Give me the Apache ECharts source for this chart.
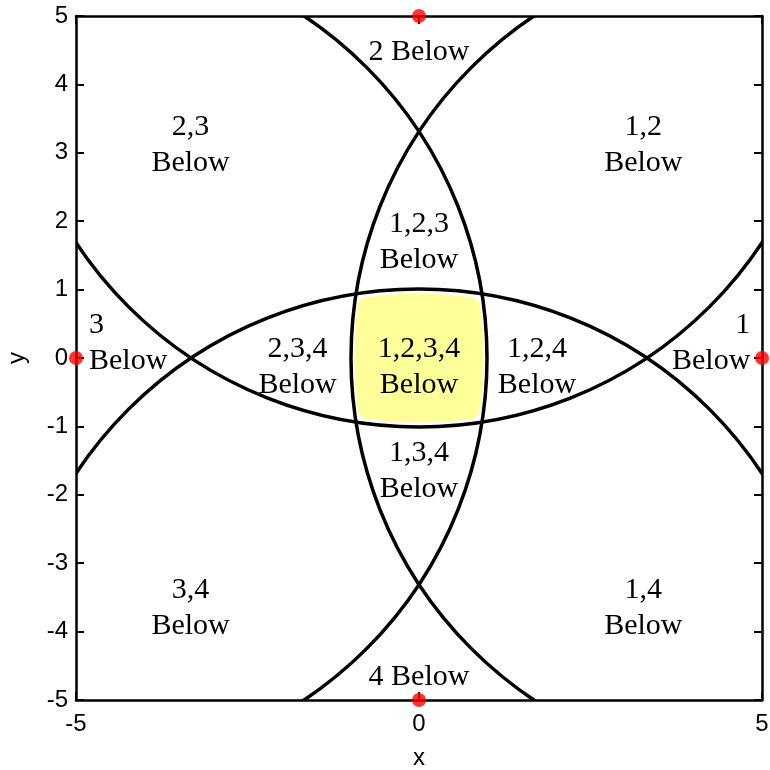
<!DOCTYPE html>
<html>
<head>
<meta charset="utf-8">
<script src="https://cdn.jsdelivr.net/npm/echarts@6/dist/echarts.min.js"></script>
<style>
  html, body { margin: 0; padding: 0; background: #fff; }
  #chart { width: 770px; height: 770px; }
</style>
</head>
<body>
<div id="chart"></div>
<script>
// Circle centres (the four reference points) and their common radius
const centerX = [0, 5, 0, -5];
const centerY = [5, 0, -5, 0];
const radius = 6;

// Region labels: anchor position and text
const labelX = [0, -3.33, 3.27, 0, -4.81, -1.77, 0, 1.72, 4.83, 0, -3.33, 3.27, 0];
const labelY = [4.47, 3.11, 3.11, 1.70, 0.22, -0.13, -0.13, -0.13, 0.22, -1.66, -3.65, -3.65, -4.66];
const labelText = [
  '2 Below',
  '2,3\nBelow',
  '1,2\nBelow',
  '1,2,3\nBelow',
  '3\nBelow',
  '2,3,4\nBelow',
  '1,2,3,4\nBelow',
  '1,2,4\nBelow',
  '1\nBelow',
  '1,3,4\nBelow',
  '3,4\nBelow',
  '1,4\nBelow',
  '4 Below'
];

// Axis ticks
const xTicks = [-5, 0, 5];
const yTicks = [-5, -4, -3, -2, -1, 0, 1, 2, 3, 4, 5];

const chart = echarts.init(document.getElementById('chart'));

const axisFont = { fontFamily: 'Liberation Sans, Arial, sans-serif', fontSize: 24, color: '#000' };
const serifFont = 'Liberation Serif, Times New Roman, serif';

// Boundary of the common region of all circles, traced by rays from the origin
function commonRegion(r) {
  const pts = [];
  for (let k = 0; k < 720; k++) {
    const a = (k / 720) * Math.PI * 2;
    const ux = Math.cos(a), uy = Math.sin(a);
    let tMin = Infinity;
    for (let i = 0; i < centerX.length; i++) {
      const d = ux * centerX[i] + uy * centerY[i];
      const c2 = centerX[i] * centerX[i] + centerY[i] * centerY[i];
      const t = d + Math.sqrt(d * d - c2 + r * r);
      if (t < tMin) tMin = t;
    }
    pts.push([tMin * ux, tMin * uy]);
  }
  return pts;
}

const baseAxis = {
  type: 'value',
  min: -5,
  max: 5,
  splitLine: { show: false },
  axisLine: { show: true, onZero: false, lineStyle: { color: '#000', width: 2.5 } },
  axisTick: { show: true, inside: true, length: 8, lineStyle: { color: '#000', width: 2 } }
};

const option = {
  animation: false,
  backgroundColor: '#fff',
  grid: { left: 76, top: 16, width: 686, height: 684, outerBoundsMode: 'none', containLabel: false },
  xAxis: [
    Object.assign({}, baseAxis, {
      position: 'bottom',
      interval: 5,
      axisLabel: Object.assign({ margin: 12, formatter: v => (xTicks.includes(v) ? String(v) : '') }, axisFont),
      name: 'x',
      nameLocation: 'middle',
      nameGap: 46,
      nameTextStyle: axisFont
    }),
    Object.assign({}, baseAxis, {
      position: 'top',
      interval: 5,
      axisLabel: { show: false }
    })
  ],
  yAxis: [
    Object.assign({}, baseAxis, {
      position: 'left',
      interval: 1,
      axisLabel: Object.assign({ margin: 8, formatter: v => (yTicks.includes(v) ? String(v) : '') }, axisFont),
      name: 'y',
      nameLocation: 'middle',
      nameGap: 47,
      nameTextStyle: axisFont
    }),
    Object.assign({}, baseAxis, {
      position: 'right',
      interval: 1,
      axisLabel: { show: false }
    })
  ],
  series: [
    {
      // highlighted region common to all four circles
      type: 'custom',
      xAxisIndex: 0,
      yAxisIndex: 0,
      clip: true,
      data: [[0, 0]],
      z: 1,
      renderItem: function (params, api) {
        const cornerPx = 10;
        const cornerUnits = cornerPx / api.size([1, 1])[0];
        const pts = commonRegion(radius - 0.06 - cornerUnits).map(p => api.coord(p));
        return {
          type: 'polygon',
          shape: { points: pts },
          style: { fill: '#ffff99', stroke: '#ffff99', lineWidth: cornerPx * 2, lineJoin: 'round' }
        };
      }
    },
    {
      // the four circles
      type: 'custom',
      xAxisIndex: 0,
      yAxisIndex: 0,
      clip: true,
      z: 2,
      data: centerX.map((x, i) => [x, centerY[i]]),
      renderItem: function (params, api) {
        const c = api.coord([api.value(0), api.value(1)]);
        const s = api.size([radius, radius]);
        return {
          type: 'circle',
          shape: { cx: c[0], cy: c[1], r: (s[0] + s[1]) / 2 },
          style: { fill: 'none', stroke: '#000', lineWidth: 3.5 }
        };
      }
    },
    {
      // region labels
      type: 'custom',
      xAxisIndex: 0,
      yAxisIndex: 0,
      z: 3,
      data: labelX.map((x, i) => [x, labelY[i], i]),
      renderItem: function (params, api) {
        const x = api.value(0);
        const c = api.coord([x, api.value(1)]);
        const align = x < -4 ? 'left' : (x > 4 ? 'right' : 'center');
        return {
          type: 'text',
          x: c[0],
          y: c[1],
          style: {
            text: labelText[api.value(2)],
            fontFamily: serifFont,
            fontSize: 30,
            lineHeight: 36,
            fill: '#000',
            align: align,
            verticalAlign: 'middle'
          }
        };
      }
    },
    {
      // circle centres
      type: 'scatter',
      xAxisIndex: 0,
      yAxisIndex: 0,
      clip: false,
      z: 5,
      symbol: 'circle',
      symbolSize: 14,
      itemStyle: { color: '#ff0000' },
      data: centerX.map((x, i) => [x, centerY[i]])
    }
  ]
};

chart.setOption(option);
</script>
</body>
</html>
